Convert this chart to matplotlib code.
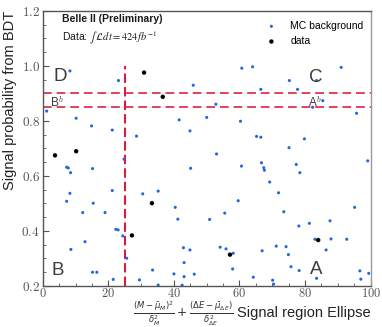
import matplotlib
matplotlib.use("Agg")
import matplotlib.pyplot as plt
from matplotlib.ticker import MultipleLocator, FuncFormatter

plt.rcParams['mathtext.fontset'] = 'cm'
plt.rcParams['font.family'] = ['Liberation Sans', 'DejaVu Sans']

# MC background points (ellipse variable, BDT probability)
mc_x = [8.3, 23.1, 45.9, 60.7, 64.0, 75.2, 91.0, 66.5, 77.7, 83.5, 52.8, 85.4, 82.3,
        1.2, 10.2, 41.6, 50.0, 95.7, 60.3, 14.9, 21.2, 28.6, 44.9, 65.2, 66.5, 79.8,
        75.1, 53.0, 66.7, 77.3, 99.1, 24.8, 7.3, 7.8, 8.5, 15.2, 45.1, 60.6, 67.4,
        67.6, 78.4, 69.2, 71.9, 21.2, 8.3, 7.3, 15.4, 30.5, 35.2, 59.6, 40.4, 95.1,
        12.2, 19.0, 55.5, 73.5, 41.2, 50.9, 87.6, 78.1, 81.3, 22.3, 23.0, 24.4, 12.9,
        8.6, 25.6, 42.9, 44.9, 43.1, 83.0, 87.9, 92.7, 86.4, 54.1, 55.9, 58.1, 66.9,
        71.2, 74.2, 74.9, 75.7, 57.9, 78.2, 33.5, 15.2, 16.5, 40.0, 46.2, 43.1, 21.5,
        29.5, 35.2, 42.5, 64.2, 70.1, 70.4, 83.5, 96.7, 99.4, 97.0]
mc_y = [0.982, 0.947, 0.930, 0.992, 0.997, 0.947, 0.995, 0.915, 0.915, 0.947, 0.861, 0.874, 0.850,
        0.836, 0.810, 0.804, 0.813, 0.828, 0.799, 0.782, 0.767, 0.745, 0.764, 0.744, 0.741, 0.735,
        0.703, 0.680, 0.648, 0.642, 0.655, 0.661, 0.632, 0.629, 0.612, 0.627, 0.628, 0.636, 0.630,
        0.621, 0.612, 0.578, 0.539, 0.547, 0.537, 0.508, 0.501, 0.535, 0.545, 0.510, 0.486, 0.486,
        0.467, 0.467, 0.465, 0.470, 0.443, 0.442, 0.437, 0.418, 0.428, 0.406, 0.404, 0.382, 0.361,
        0.333, 0.301, 0.339, 0.331, 0.285, 0.370, 0.371, 0.370, 0.331, 0.341, 0.335, 0.319, 0.328,
        0.345, 0.343, 0.314, 0.270, 0.262, 0.256, 0.258, 0.250, 0.250, 0.244, 0.243, 0.234, 0.224,
        0.222, 0.203, 0.203, 0.232, 0.221, 0.207, 0.228, 0.255, 0.246, 0.225]

# Data points
data_x = [30.9, 36.6, 3.75, 10.2, 33.3, 27.2, 57.1, 84.0]
data_y = [0.976, 0.888, 0.675, 0.690, 0.501, 0.384, 0.314, 0.367]

# Region boundaries
cut_x = 25
cut_y_low = 0.85
cut_y_high = 0.90

# Region labels
region_labels = ["D", "C", "B", "A"]
region_pos = [(5.5, 0.961), (83.4, 0.957), (4.5, 0.256), (83.3, 0.261)]
side_labels = [r"B$^{b}$", r"A$^{b}$"]
side_pos = [(4.3, 0.870), (83.1, 0.867)]

fig = plt.figure(figsize=(3.82, 3.27), dpi=100)
ax = fig.add_axes([0.1118, 0.1254, 0.8586, 0.841])

ax.scatter(mc_x, mc_y, s=5, color='#2466dc', edgecolors='none', label='MC background', zorder=3)
ax.scatter(data_x, data_y, s=10, color='black', edgecolors='none', label='data', zorder=4)

red = '#dc1a3c'
ax.axhline(cut_y_high, color='#e3405e', lw=1.4, ls=(0, (4.5, 2.5)), zorder=2)
ax.axhline(cut_y_low, color='#e3405e', lw=1.4, ls=(0, (4.5, 2.5)), zorder=2)
ax.vlines(cut_x, 0.2, 1.0, color=red, lw=1.5, linestyles=[(0, (4.5, 2.0))], zorder=2)

for lab, (px, py) in zip(region_labels, region_pos):
    ax.text(px, py, lab, fontsize=13.5, color='#3c3c3c', ha='center', va='center', zorder=5)
for lab, (px, py) in zip(side_labels, side_pos):
    ax.text(px, py, lab, fontsize=8.5, color='#3c3c3c', ha='center', va='center', zorder=5)

ax.text(0.059, 0.988, 'Belle II (Preliminary)', transform=ax.transAxes, fontsize=7.5,
        fontweight='bold', va='top', ha='left', color='#1a1a1a')
dt = ax.text(0.059, 0.935, r'Data: $\int\,\mathcal{L}dt = 424\,fb^{-1}$', transform=ax.transAxes,
             fontsize=7.5, va='top', ha='left', color='#1a1a1a')
dt.set_math_fontfamily('stix')

ax.set_xlim(0, 100)
ax.set_ylim(0.2, 1.2)
ax.xaxis.set_major_locator(MultipleLocator(20))
ax.xaxis.set_minor_locator(MultipleLocator(5))
ax.yaxis.set_major_locator(MultipleLocator(0.2))
ax.yaxis.set_minor_locator(MultipleLocator(0.05))
ax.xaxis.set_major_formatter(FuncFormatter(lambda v, p: r'$%d$' % round(v)))
ax.yaxis.set_major_formatter(FuncFormatter(lambda v, p: r'$%.1f$' % v))
ax.tick_params(axis='both', which='both', direction='in', labelsize=9.5,
               labelcolor='#555555', color='#555555', pad=2)
ax.tick_params(axis='x', which='both', pad=1.0, labelsize=9.0)
ax.tick_params(which='major', length=4)
ax.tick_params(which='minor', length=2)

for side in ['left', 'bottom', 'top']:
    ax.spines[side].set_color('#555555')
ax.spines['right'].set_color('#999999')
for s in ax.spines.values():
    s.set_linewidth(1.0)

ax.set_ylabel('Signal probability from BDT', fontsize=10.5, loc='top', color='#222222', labelpad=3)
ax.set_xlabel('Signal region Ellipse', fontsize=10.5, loc='right', color='#222222', labelpad=4)
frac = fig.text(233 / 382, (327 - 313.5) / 327,
                r'$\frac{(M-\bar{\mu}_M)^2}{\delta^2_M}+\frac{(\Delta E-\bar{\mu}_{\Delta E})}{\delta^2_{\Delta E}}$',
                fontsize=8.8, ha='right', va='center', color='#333333')
frac.set_math_fontfamily('dejavusans')

leg = ax.legend(loc='upper right', bbox_to_anchor=(1.0, 0.99), frameon=False, fontsize=7.5,
                handletextpad=0.8, markerscale=1.0, borderaxespad=0.3, labelspacing=0.5)

fig.savefig('out.png', dpi=100)
